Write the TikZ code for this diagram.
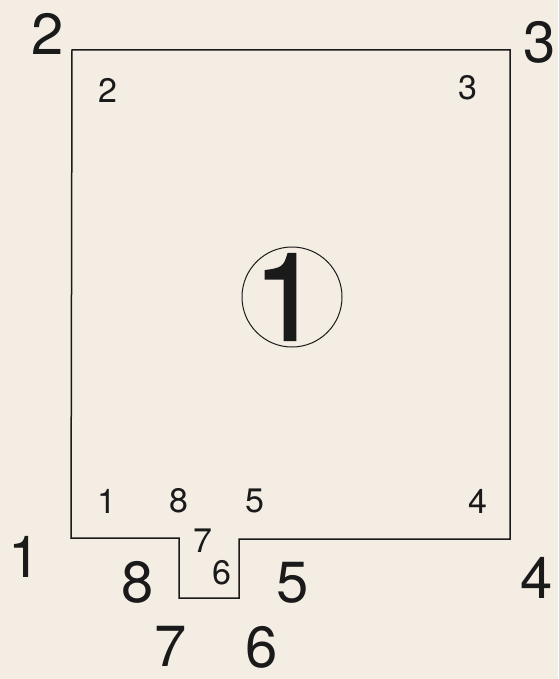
\documentclass[tikz,border=0pt]{standalone}
\usepackage{fontspec}
\setmainfont{TeX Gyre Heros}
\newfontfamily\heavyfont[FakeBold=1.6]{TeX Gyre Heros}
\definecolor{paper}{HTML}{F4EDE3}
\definecolor{ink}{HTML}{1A1A1A}
\begin{document}
\begin{tikzpicture}[x=1pt,y=-1pt,
  big/.style={inner sep=0pt,text=ink,font=\fontsize{58}{58}\selectfont},
  small/.style={inner sep=0pt,text=ink,font=\fontsize{34}{34}\selectfont},
  outline/.style={draw=ink,line width=1.5pt,line join=miter}]
\fill[paper] (0,0) rectangle (558,679);
\useasboundingbox (0,0) rectangle (558,679);
% outline corners
\coordinate (p2) at (72,50);
\coordinate (p3) at (510,50);
\coordinate (p4) at (510,539);
\coordinate (p5) at (239,539);
\coordinate (p6) at (239,598);
\coordinate (p7) at (179,598);
\coordinate (p8) at (179,538);
\coordinate (p1) at (71,538);
\draw[outline] (p1) -- (p2) -- (p3) -- (p4) -- (p5) -- (p6) -- (p7) -- (p8) -- cycle;
% large outer labels
\node[big] (L2) at (48,34) {2};
\node[big] (L3) at (540,42) {3};
\node[big] (L1) at (25,557) {1};
\node[big] (L8) at (138,582) {8};
\node[big] (L5) at (293,583) {5};
\node[big] (L4) at (537,578) {4};
\node[big] (L7) at (171,646) {7};
\node[big] (L6) at (262,647) {6};
% small inner labels
\node[small] (s2) at (108,90) {2};
\node[small] (s3) at (468,88) {3};
\node[small] (s1) at (107,501) {1};
\node[small] (s8) at (179,501) {8};
\node[small] (s5) at (255,501) {5};
\node[small] (s4) at (478,501) {4};
\node[small] (s7) at (203,541) {7};
\node[small] (s6) at (222,573) {6};
% circled room number
\node[circle,draw=ink,line width=1pt,minimum size=100pt,inner sep=0pt] (c1) at (292,297) {};
\node[inner sep=0pt,text=ink,font=\heavyfont\fontsize{122}{122}\selectfont] (n1) at (287,297) {1};
\end{tikzpicture}
\end{document}
